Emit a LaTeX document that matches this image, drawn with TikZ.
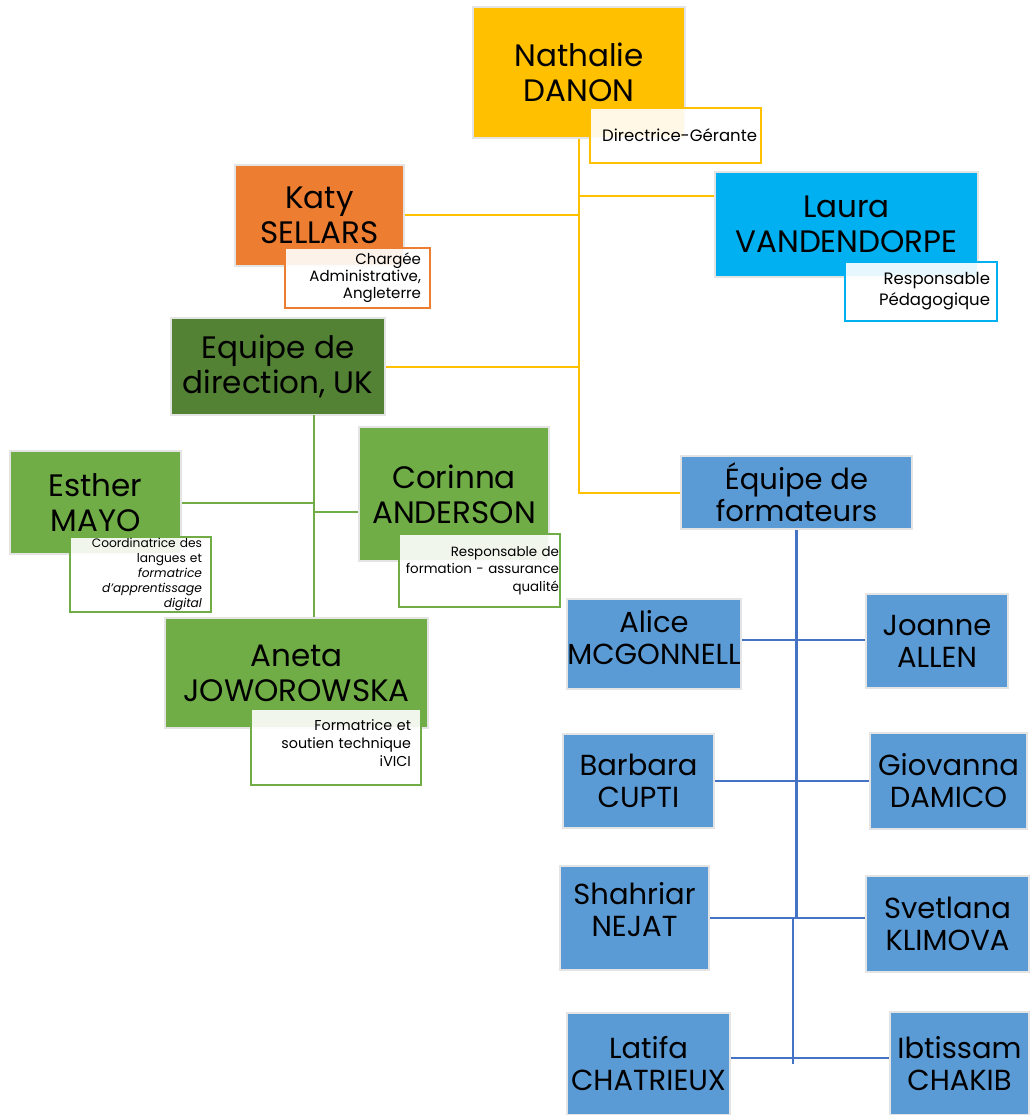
\documentclass[tikz,border=0pt]{standalone}
\usepackage{fontspec}
\setmainfont{Poppins}
\definecolor{gold}{HTML}{FFC000}
\definecolor{rust}{HTML}{ED7D31}
\definecolor{sky}{HTML}{00B0F0}
\definecolor{forest}{HTML}{548235}
\definecolor{leaf}{HTML}{70AD47}
\definecolor{steel}{HTML}{5B9BD5}
\definecolor{navy}{HTML}{4472C4}
\definecolor{edge}{HTML}{E4E4E4}
\tikzset{
  box/.style={fill=#1, draw=edge, line width=1.2pt, align=center, inner sep=0pt,
    font=\fontsize{31}{35}\selectfont},
  teambox/.style={box=steel, font=\fontsize{29}{32}\selectfont},
  sub/.style={fill=white, fill opacity=0.9, text opacity=1, draw=#1, line width=2pt,
    align=right, inner xsep=9pt, inner ysep=0pt, font=\fontsize{15}{17}\selectfont},
  goldline/.style={draw=gold, line width=2pt},
  leafline/.style={draw=leaf, line width=2pt},
  navyline/.style={draw=navy, line width=2.5pt}
}
\begin{document}
\begin{tikzpicture}[x=1pt,y=-1pt]
\useasboundingbox (0,0) rectangle (1029,1115);

\node[box=gold, minimum width=212, minimum height=131] at (579,72.5) (nathalie) {Nathalie\\DANON};
\node[box=rust, minimum width=169, minimum height=101] at (319.5,215.5) (katy) {Katy\\SELLARS};
\node[box=sky, minimum width=263, minimum height=105] at (846.5,224.5) (laura) {Laura\\VANDENDORPE};
\node[box=forest, minimum width=214, minimum height=97] at (278,366.5) (direction) {Equipe de\\direction, UK};
\node[teambox, minimum width=231, minimum height=73] at (796.5,492.5) (formateurs) {Équipe de\\formateurs};

% equipe UK
\node[box=leaf, minimum width=171, minimum height=103] at (95.5,502.5) (esther) {Esther\\MAYO};
\node[box=leaf, minimum width=190, minimum height=134] at (454,494) (corinna) {Corinna\\ANDERSON};
\node[box=leaf, minimum width=263, minimum height=110] at (296.5,673) (aneta) {Aneta\\JOWOROWSKA};

% formateurs
\node[teambox, minimum width=174, minimum height=90] at (654,644) (alice) {Alice\\MCGONNELL\\[-18pt]};
\node[teambox, minimum width=142, minimum height=94] at (937,641) (joanne) {Joanne\\ALLEN};
\node[teambox, minimum width=151, minimum height=94] at (638.5,781) (barbara) {Barbara\\CUPTI};
\node[teambox, minimum width=157, minimum height=96] at (948.5,781) (giovanna) {Giovanna\\DAMICO};
\node[teambox, minimum width=149, minimum height=104] at (634.5,918) (shahriar) {Shahriar\\NEJAT\\[-14pt]};
\node[teambox, minimum width=163, minimum height=96] at (947.5,924) (svetlana) {Svetlana\\KLIMOVA};
\node[teambox, minimum width=163, minimum height=102] at (648.5,1064) (latifa) {Latifa\\CHATRIEUX};
\node[teambox, minimum width=139, minimum height=103] at (959.5,1063.5) (ibtissam) {Ibtissam\\CHAKIB};

\draw[goldline] (nathalie.south) |- (formateurs.west);
\draw[goldline] (katy.east) -- (katy.east -| nathalie.south);
\draw[goldline] ([yshift=28pt]laura.west) -- ([yshift=28pt]laura.west -| nathalie.south);
\draw[goldline] (direction.east) -- (direction.east -| nathalie.south);

\coordinate (gtrunk) at (314,415);
\draw[leafline] (gtrunk) -- (gtrunk |- aneta.north);
\draw[leafline] (esther.east) -- (esther.east -| gtrunk);
\draw[leafline] ([yshift=-18pt]corinna.west) -- ([yshift=-18pt]corinna.west -| gtrunk);

\coordinate (bjog) at (793,918);
\draw[navyline] (formateurs.south) |- (bjog) -- (bjog |- latifa.east);
\draw[navyline] ([yshift=4pt]alice.east) -- ([yshift=4pt]alice.east -| joanne.west);
\draw[navyline] (barbara.east) -- (barbara.east -| giovanna.west);
\draw[navyline] (shahriar.east) -- (shahriar.east -| svetlana.west);
\draw[navyline] ([yshift=6pt]latifa.east) -- ([yshift=6pt]latifa.east -| ibtissam.west);

% fonctions
\node[sub=gold, minimum width=171, minimum height=55, text width=163, inner xsep=4pt, font=\fontsize{16.5}{19}\selectfont] at (675.5,135.5) (nathaliesub) {Directrice-Gérante};
\node[sub=rust, minimum width=145, minimum height=60, text width=127] at (357.5,278) (katysub) {Chargée\\Administrative,\\Angleterre};
\node[sub=sky, minimum width=152, minimum height=59, text width=138, inner xsep=7pt, font=\fontsize{16.5}{21}\selectfont] at (921,291.5) (laurasub) {Responsable\\Pédagogique};
\node[sub=leaf, minimum width=141, minimum height=75, text width=123, font=\fontsize{12.2}{15}\selectfont] at (140.5,574.5) (esthersub) {Coordinatrice des\\langues et\\\textit{formatrice}\\\textit{d’apprentissage}\\\textit{digital}};
\node[sub=leaf, minimum width=161, minimum height=73, text width=159, inner xsep=1pt, font=\fontsize{13.4}{17.5}\selectfont] at (479.5,570.5) (corinnasub) {Responsable de\\formation - assurance\\qualité\\[-10pt]};
\node[sub=leaf, minimum width=170, minimum height=76, text width=150, font=\fontsize{14.3}{18}\selectfont] at (336,747) (anetasub) {\\[-14pt]Formatrice et\\soutien technique\\iVICI};
\end{tikzpicture}
\end{document}
